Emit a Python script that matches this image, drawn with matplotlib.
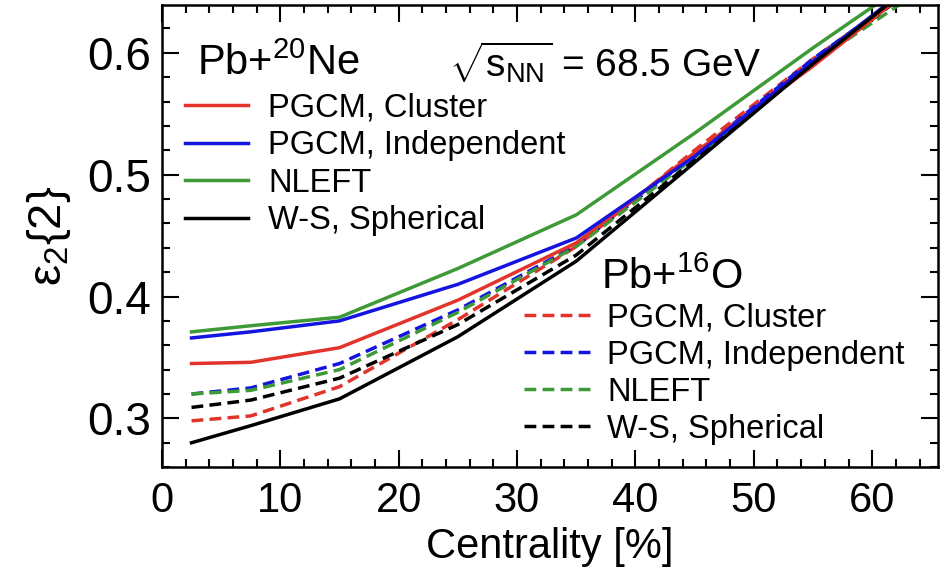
import numpy as np
import matplotlib
matplotlib.use("Agg")
import matplotlib.pyplot as plt
from matplotlib.ticker import MultipleLocator
from matplotlib.lines import Line2D

plt.rcParams['font.family'] = ['Liberation Sans', 'DejaVu Sans']
plt.rcParams['mathtext.fontset'] = 'custom'
plt.rcParams['mathtext.rm'] = 'Liberation Sans'
plt.rcParams['mathtext.it'] = 'Liberation Sans'
plt.rcParams['mathtext.bf'] = 'Liberation Sans'

# centrality bin centres [%]
cent = [2.5, 7.5, 15, 25, 35, 45, 55, 65]

# Pb+20Ne (solid)
ne_cluster = [0.345, 0.346, 0.358, 0.397, 0.444, 0.518, 0.589, 0.666]
ne_indep = [0.366, 0.371, 0.380, 0.410, 0.448, 0.515, 0.593, 0.668]
ne_nleft = [0.371, 0.376, 0.383, 0.423, 0.467, 0.534, 0.604, 0.671]
ne_ws = [0.280, 0.294, 0.316, 0.367, 0.429, 0.510, 0.591, 0.668]

# Pb+16O (dashed)
o_cluster = [0.298, 0.302, 0.326, 0.381, 0.441, 0.520, 0.595, 0.664]
o_indep = [0.320, 0.325, 0.345, 0.389, 0.442, 0.516, 0.595, 0.664]
o_nleft = [0.320, 0.323, 0.340, 0.387, 0.441, 0.514, 0.592, 0.657]
o_ws = [0.309, 0.315, 0.333, 0.377, 0.434, 0.512, 0.591, 0.664]

labels = ["PGCM, Cluster", "PGCM, Independent", "NLEFT", "W-S, Spherical"]
colors = ["#e3342b", "#1414e0", "#3e9a36", "#000000"]

LW = 2.5
DASH = (3.4, 1.8)

fig = plt.figure(figsize=(9.47, 5.81), dpi=100)
ax = fig.add_axes([0.171, 0.196, 0.820, 0.795])

ne_sets = [ne_cluster, ne_indep, ne_nleft, ne_ws]
o_sets = [o_cluster, o_indep, o_nleft, o_ws]

for y, c in zip(o_sets, colors):
    ax.plot(cent, y, color=c, lw=LW, dashes=DASH)
for y, c in zip(ne_sets, colors):
    ax.plot(cent, y, color=c, lw=LW)

ax.set_xlim(0, 65.6)
ax.set_ylim(0.26, 0.639)

ax.xaxis.set_major_locator(MultipleLocator(10))
ax.xaxis.set_minor_locator(MultipleLocator(2))
ax.yaxis.set_major_locator(MultipleLocator(0.1))
ax.yaxis.set_minor_locator(MultipleLocator(0.02))
ax.tick_params(which='both', direction='in', top=True, right=True, width=1.5)
ax.tick_params(which='major', length=12)
ax.tick_params(which='minor', length=6)
ax.tick_params(axis='x', which='major', labelsize=30, pad=10)
ax.tick_params(axis='y', which='major', labelsize=33, pad=8)
for s in ax.spines.values():
    s.set_linewidth(1.8)

ax.set_xlabel("Centrality [%]", fontsize=30, labelpad=4)
ax.set_ylabel(r"$\mathregular{\varepsilon_2\{2\}}$", fontsize=34, labelpad=10)

ax.text(0.045, 0.85, r"Pb+$^{20}$Ne", transform=ax.transAxes, fontsize=30)
ax.text(0.37, 0.845, r"$\sqrt{s_{\mathregular{NN}}}$ = 68.5 GeV", transform=ax.transAxes,
        fontsize=28)
ax.text(0.565, 0.385, r"Pb+$^{16}$O", transform=ax.transAxes, fontsize=30)

h1 = [Line2D([], [], color=c, lw=LW) for c in colors]
leg1 = ax.legend(h1, labels, loc='upper left', bbox_to_anchor=(0.0, 0.86),
                 frameon=False, fontsize=23.5, handlelength=1.95, handletextpad=0.6,
                 labelspacing=0.2, borderpad=0.2)
ax.add_artist(leg1)

h2 = [Line2D([], [], color=c, lw=LW, dashes=DASH) for c in colors]
ax.legend(h2, labels, loc='upper left', bbox_to_anchor=(0.437, 0.405),
          frameon=False, fontsize=23.5, handlelength=2.15, handletextpad=0.4,
          labelspacing=0.18, borderpad=0.2)

fig.savefig("out.png", dpi=100)
